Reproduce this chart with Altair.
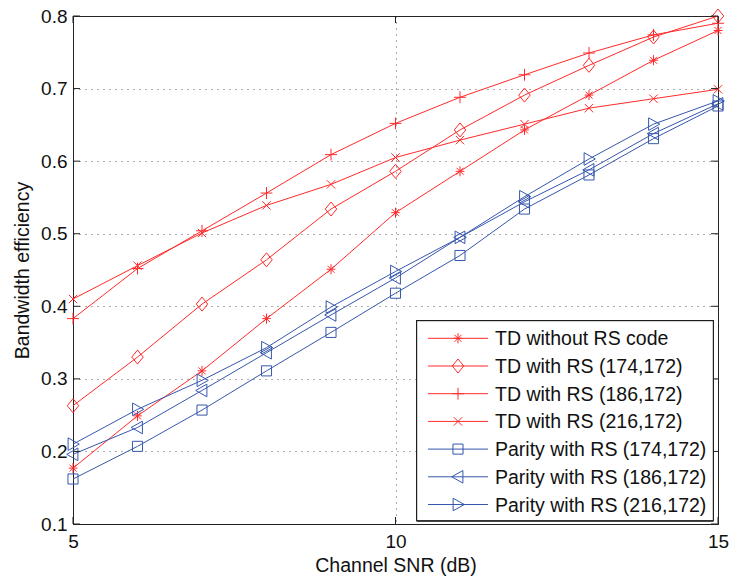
import altair as alt
import pandas as pd

snr = [5, 6, 7, 8, 9, 10, 11, 12, 13, 14, 15]
td_none = [0.177, 0.249, 0.311, 0.383, 0.451, 0.529, 0.586, 0.643, 0.691, 0.739, 0.780]
td_174 = [0.263, 0.330, 0.403, 0.464, 0.534, 0.586, 0.643, 0.691, 0.732, 0.771, 0.800]
td_186 = [0.383, 0.452, 0.504, 0.556, 0.609, 0.652, 0.688, 0.719, 0.749, 0.774, 0.790]
td_216 = [0.410, 0.456, 0.501, 0.539, 0.568, 0.605, 0.629, 0.651, 0.673, 0.686, 0.699]
par_174 = [0.162, 0.207, 0.257, 0.311, 0.364, 0.418, 0.470, 0.534, 0.581, 0.631, 0.676]
par_186 = [0.196, 0.233, 0.284, 0.336, 0.388, 0.439, 0.495, 0.544, 0.588, 0.638, 0.679]
par_216 = [0.210, 0.258, 0.298, 0.343, 0.399, 0.448, 0.495, 0.551, 0.603, 0.651, 0.683]

names = [
    "TD without RS code",
    "TD with RS (174,172)",
    "TD with RS (186,172)",
    "TD with RS (216,172)",
    "Parity with RS (174,172)",
    "Parity with RS (186,172)",
    "Parity with RS (216,172)",
]
series_values = [td_none, td_174, td_186, td_216, par_174, par_186, par_216]

x_ticks = [5, 10, 15]
y_ticks = [0.1, 0.2, 0.3, 0.4, 0.5, 0.6, 0.7, 0.8]

RED = "#ff2a2a"
BLUE = "#3657ad"
colors = [RED, RED, RED, RED, BLUE, BLUE, BLUE]
shapes = [
    "M0,-0.72L0,0.72M-0.62,0L0.62,0M-0.5,-0.5L0.5,0.5M-0.5,0.5L0.5,-0.5",  # asterisk
    "M0,-1L0.82,0L0,1L-0.82,0Z",  # diamond
    "M0,-0.85L0,0.85M-0.85,0L0.85,0",  # plus
    "M-0.6,-0.6L0.6,0.6M-0.6,0.6L0.6,-0.6",  # x
    "M-0.72,-0.72L0.72,-0.72L0.72,0.72L-0.72,0.72Z",  # square
    "M0.7,-0.9L0.7,0.9L-0.9,0Z",  # triangle left
    "M-0.7,-0.9L-0.7,0.9L0.9,0Z",  # triangle right
]

rows = []
for name, vals in zip(names, series_values):
    for x, v in zip(snr, vals):
        rows.append({"snr": x, "value": v, "series": name})
df = pd.DataFrame(rows)
leg_df = pd.DataFrame({"series": names})

W, H = 645, 508
FONT = "Liberation Sans"
FS = 19.5
LFS = 19

xs = alt.Scale(domain=[5, 15], nice=False)
ys = alt.Scale(domain=[0.1, 0.8], nice=False)
cs = alt.Scale(domain=names, range=colors)
ss = alt.Scale(domain=names, range=shapes)

base = alt.Chart(df)
lines = base.mark_line(strokeWidth=1).encode(
    x=alt.X("snr:Q", scale=xs,
            axis=alt.Axis(values=x_ticks, format="d", title="Channel SNR (dB)", grid=True,
                          tickSize=0, labelPadding=8, titlePadding=5, labelFlush=False,
                          gridDash=[1, 5], gridColor="#333", gridOpacity=0.8)),
    y=alt.Y("value:Q", scale=ys,
            axis=alt.Axis(values=y_ticks, format=".1f", title="Bandwidth efficiency",
                          grid=True, tickSize=0, labelPadding=6, titlePadding=8,
                          labelFlush=False,
                          gridDash=[1, 5], gridColor="#333", gridOpacity=0.8)),
    color=alt.Color("series:N", scale=cs, legend=None),
    detail="series:N",
)
points = base.mark_point(filled=False, strokeWidth=1, size=196, opacity=1).encode(
    x=alt.X("snr:Q", scale=xs),
    y=alt.Y("value:Q", scale=ys),
    color=alt.Color("series:N", scale=cs, legend=None),
    shape=alt.Shape("series:N", scale=ss, legend=None),
)

xt = pd.DataFrame({"t": x_ticks})
yt = pd.DataFrame({"t": y_ticks})
tick_b = alt.Chart(xt).mark_rule(color="#222", strokeWidth=1).encode(
    x=alt.X("t:Q", scale=xs), y=alt.value(H - 7), y2=alt.value(H))
tick_t = alt.Chart(xt).mark_rule(color="#222", strokeWidth=1).encode(
    x=alt.X("t:Q", scale=xs), y=alt.value(0), y2=alt.value(7))
tick_l = alt.Chart(yt).mark_rule(color="#222", strokeWidth=1).encode(
    y=alt.Y("t:Q", scale=ys), x=alt.value(0), x2=alt.value(7))
tick_r = alt.Chart(yt).mark_rule(color="#222", strokeWidth=1).encode(
    y=alt.Y("t:Q", scale=ys), x=alt.value(W - 7), x2=alt.value(W))

main = alt.layer(lines, points, tick_b, tick_t, tick_l, tick_r)

# legend
ly = alt.Scale(type="point", domain=names, range=[322.3, 488.5], padding=0)
box = alt.Chart(leg_df).mark_rect(fill="white", stroke="#111", strokeWidth=1).encode(
    x=alt.value(343.7), x2=alt.value(640.3), y=alt.value(304.7), y2=alt.value(504.7))
leg_line = alt.Chart(leg_df).mark_rule(strokeWidth=1).encode(
    y=alt.Y("series:N", scale=ly, axis=None),
    x=alt.value(355), x2=alt.value(415),
    color=alt.Color("series:N", scale=cs, legend=None),
)
leg_pt = alt.Chart(leg_df).mark_point(filled=False, strokeWidth=1, size=196, opacity=1).encode(
    y=alt.Y("series:N", scale=ly, axis=None),
    x=alt.value(385),
    color=alt.Color("series:N", scale=cs, legend=None),
    shape=alt.Shape("series:N", scale=ss, legend=None),
)
leg_txt = alt.Chart(leg_df).mark_text(align="left", baseline="middle", font=FONT,
                                      fontSize=FS, color="#111", dy=1).encode(
    y=alt.Y("series:N", scale=ly, axis=None),
    x=alt.value(422),
    text="series:N",
)
legend = alt.layer(box, leg_line, leg_pt, leg_txt)

chart = alt.layer(main, legend).resolve_scale(y="independent").properties(
    width=W, height=H,
    padding={"left": 73, "top": 16, "right": 14, "bottom": 58},
    autosize=alt.AutoSizeParams(type="none"),
    background="white",
).configure_view(stroke="#222", strokeWidth=1).configure_axis(
    labelFont=FONT, titleFont=FONT, labelFontSize=LFS, titleFontSize=FS,
    labelColor="#111", titleColor="#111", titleFontWeight="normal",
    domainColor="#222", domainWidth=1,
)

chart.save("out.html", embed_options={"renderer": "svg", "actions": False})
